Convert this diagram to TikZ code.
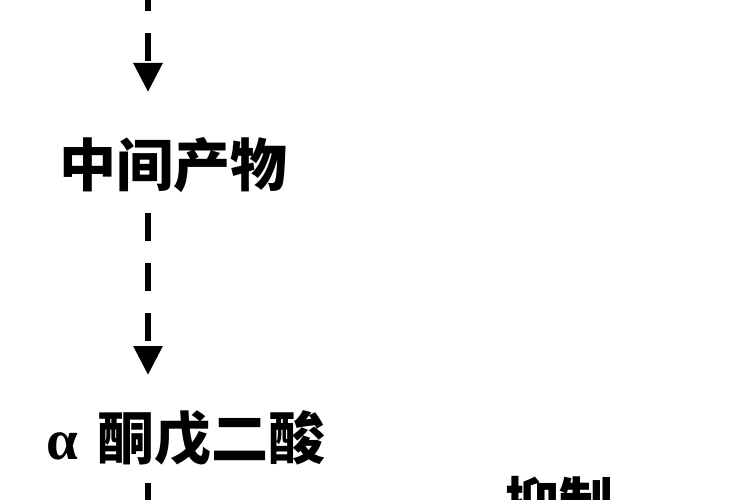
\documentclass[tikz,border=0pt]{standalone}
\usepackage{fontspec}
\newfontfamily\cjk{Noto Sans CJK SC}
\newfontfamily\grk{Liberation Serif}
\usetikzlibrary{arrows.meta}
\tikzset{
  flow/.style={line width=6pt, dash pattern=on 28pt off 22pt, -{Triangle[length=29pt,width=28pt]}},
  flowline/.style={line width=6pt, dash pattern=on 28pt off 22pt},
  lbl/.style={inner sep=0pt, anchor=base west, font=\cjk\bfseries\fontsize{57pt}{60pt}\selectfont}
}
\begin{document}
\begin{tikzpicture}[x=1pt,y=-1pt]
\useasboundingbox (0,0) rectangle (750,500);
\clip (0,0) rectangle (750,500);
\fill[white] (0,0) rectangle (750,500);
\coordinate (s1) at (148,-17);
\coordinate (e1) at (148,92);
\node[lbl] (mid) at (59,186) {中间产物};
\coordinate (s2) at (148,213);
\coordinate (e2) at (148,375);
\node[lbl] (akg) at (46,459) {\makebox[51pt][l]{\grk\bfseries α}酮戊二酸};
\coordinate (s3) at (148,483);
\coordinate (e3) at (148,540);
\node[lbl, font=\cjk\bfseries\fontsize{54pt}{58pt}\selectfont] (inh) at (505,522) {抑制};
\draw[flow] (s1) -- (e1);
\draw[flow] (s2) -- (e2);
\draw[flowline] (s3) -- (e3);
\end{tikzpicture}
\end{document}
